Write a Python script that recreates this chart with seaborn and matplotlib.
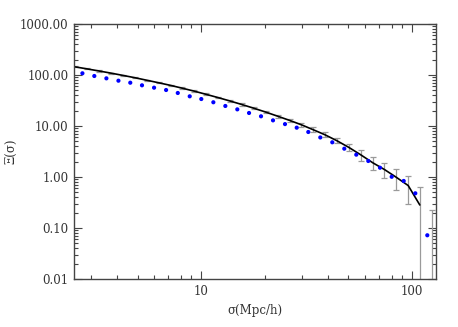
import numpy as np
import pandas as pd
import matplotlib
matplotlib.use("Agg")
import matplotlib.pyplot as plt
import matplotlib.ticker as mticker
import seaborn as sns

# measured points (blue dots)
sigma_pts = [2.74, 3.12, 3.56, 4.06, 4.62, 5.25, 5.99, 6.83, 7.76, 8.84,
             10.03, 11.44, 13.04, 14.86, 16.89, 19.25, 21.94, 25.01, 28.42, 32.25,
             36.76, 41.90, 47.77, 54.45, 62.07, 70.53, 80.14, 91.35, 103.7, 118.2]
xi_pts = [108.0, 95.6, 86.0, 77.3, 70.6, 62.8, 56.4, 50.8, 44.4, 38.2,
          33.8, 29.2, 24.7, 21.2, 18.0, 15.5, 12.9, 10.9, 9.27, 7.63,
          5.96, 4.79, 3.59, 2.74, 2.06, 1.52, 1.01, 0.836, 0.479, 0.072]

# model curve with error bars (black line, gray bars)
sigma_line = [2.52, 2.88, 3.28, 3.74, 4.26, 4.86, 5.52, 6.29, 7.17, 8.15,
              9.29, 10.54, 12.01, 13.69, 15.61, 17.74, 20.22, 23.05, 26.27, 29.85,
              33.88, 38.62, 44.01, 50.17, 57.19, 65.20, 74.07, 84.17, 95.94, 108.9,
              124.1]
xi_line = [144.8, 131.9, 120.0, 108.9, 98.3, 88.4, 79.1, 70.5, 62.6, 55.1,
           48.2, 41.9, 36.2, 31.0, 26.4, 22.4, 18.8, 15.6, 12.9, 10.6,
           8.52, 6.75, 5.16, 3.81, 2.72, 1.90, 1.40, 0.99, 0.68, 0.283,
           0.0]
xi_err = [4.0, 3.5, 3.2, 2.9, 2.7, 2.5, 2.3, 2.1, 2.0, 1.8,
          1.7, 1.6, 1.5, 1.4, 1.3, 1.2, 1.1, 1.0, 0.95, 0.9,
          0.85, 0.76, 0.58, 0.57, 0.63, 0.53, 0.46, 0.43, 0.38, 0.345,
          0.225]

sns.set_style("ticks")
plt.rcParams['font.family'] = ['DejaVu Serif', 'DejaVu Sans']

fig = plt.figure(figsize=(4.58, 3.27), dpi=100)
ax = fig.add_axes([0.1616, 0.1468, 0.7904, 0.7798])

ax.set_xscale("log")
ax.set_yscale("log")

# error bars
xl = np.array(sigma_line)
yl = np.array(xi_line)
el = np.array(xi_err)
lo = np.maximum(yl - el, 1e-4)
hi = yl + el
ax.vlines(xl, lo, hi, color="#9a9a9a", lw=0.9, zorder=1)
ax.scatter(xl, hi, marker="_", s=22, color="#9a9a9a", linewidths=0.9, zorder=1)
ax.scatter(xl[lo > 0.01], lo[lo > 0.01], marker="_", s=22, color="#9a9a9a",
           linewidths=0.9, zorder=1)

line_df = pd.DataFrame({"sigma": sigma_line, "xi": np.where(yl > 0, yl, np.nan)})
sns.lineplot(data=line_df, x="sigma", y="xi", color="black", lw=1.2,
             estimator=None, sort=False, ax=ax, zorder=2)

pts_df = pd.DataFrame({"sigma": sigma_pts, "xi": xi_pts})
sns.scatterplot(data=pts_df, x="sigma", y="xi", color="#0000ff", s=9,
                edgecolor="none", ax=ax, zorder=3)

ax.set_xlim(2.5, 130)
ax.set_ylim(0.01, 1000)

ax.yaxis.set_major_locator(mticker.LogLocator(base=10, numticks=10))
ax.yaxis.set_minor_locator(mticker.LogLocator(base=10, subs=np.arange(2, 10), numticks=20))
ax.yaxis.set_major_formatter(mticker.FuncFormatter(lambda v, p: "%.2f" % v))
ax.yaxis.set_minor_formatter(mticker.NullFormatter())
ax.xaxis.set_major_locator(mticker.FixedLocator([10, 100]))
ax.xaxis.set_minor_locator(mticker.LogLocator(base=10, subs=np.arange(2, 10), numticks=20))
ax.xaxis.set_major_formatter(mticker.FuncFormatter(lambda v, p: "%d" % v))
ax.xaxis.set_minor_formatter(mticker.NullFormatter())

ax.tick_params(which="both", direction="in", top=True, right=True,
               color="#444444", labelsize=8.5, labelcolor="#333333")
ax.tick_params(which="major", length=6, width=0.8, pad=4)
ax.tick_params(which="minor", length=3, width=0.8)
for s in ax.spines.values():
    s.set_color("#444444")
    s.set_linewidth(1.0)

ax.set_xlabel("σ(Mpc/h)", fontsize=8.5, color="#333333", labelpad=5)
ax.set_ylabel("Ξ(σ)", fontsize=8.5, color="#333333", labelpad=2)
ax.grid(False)

fig.savefig("out.png", dpi=100)
